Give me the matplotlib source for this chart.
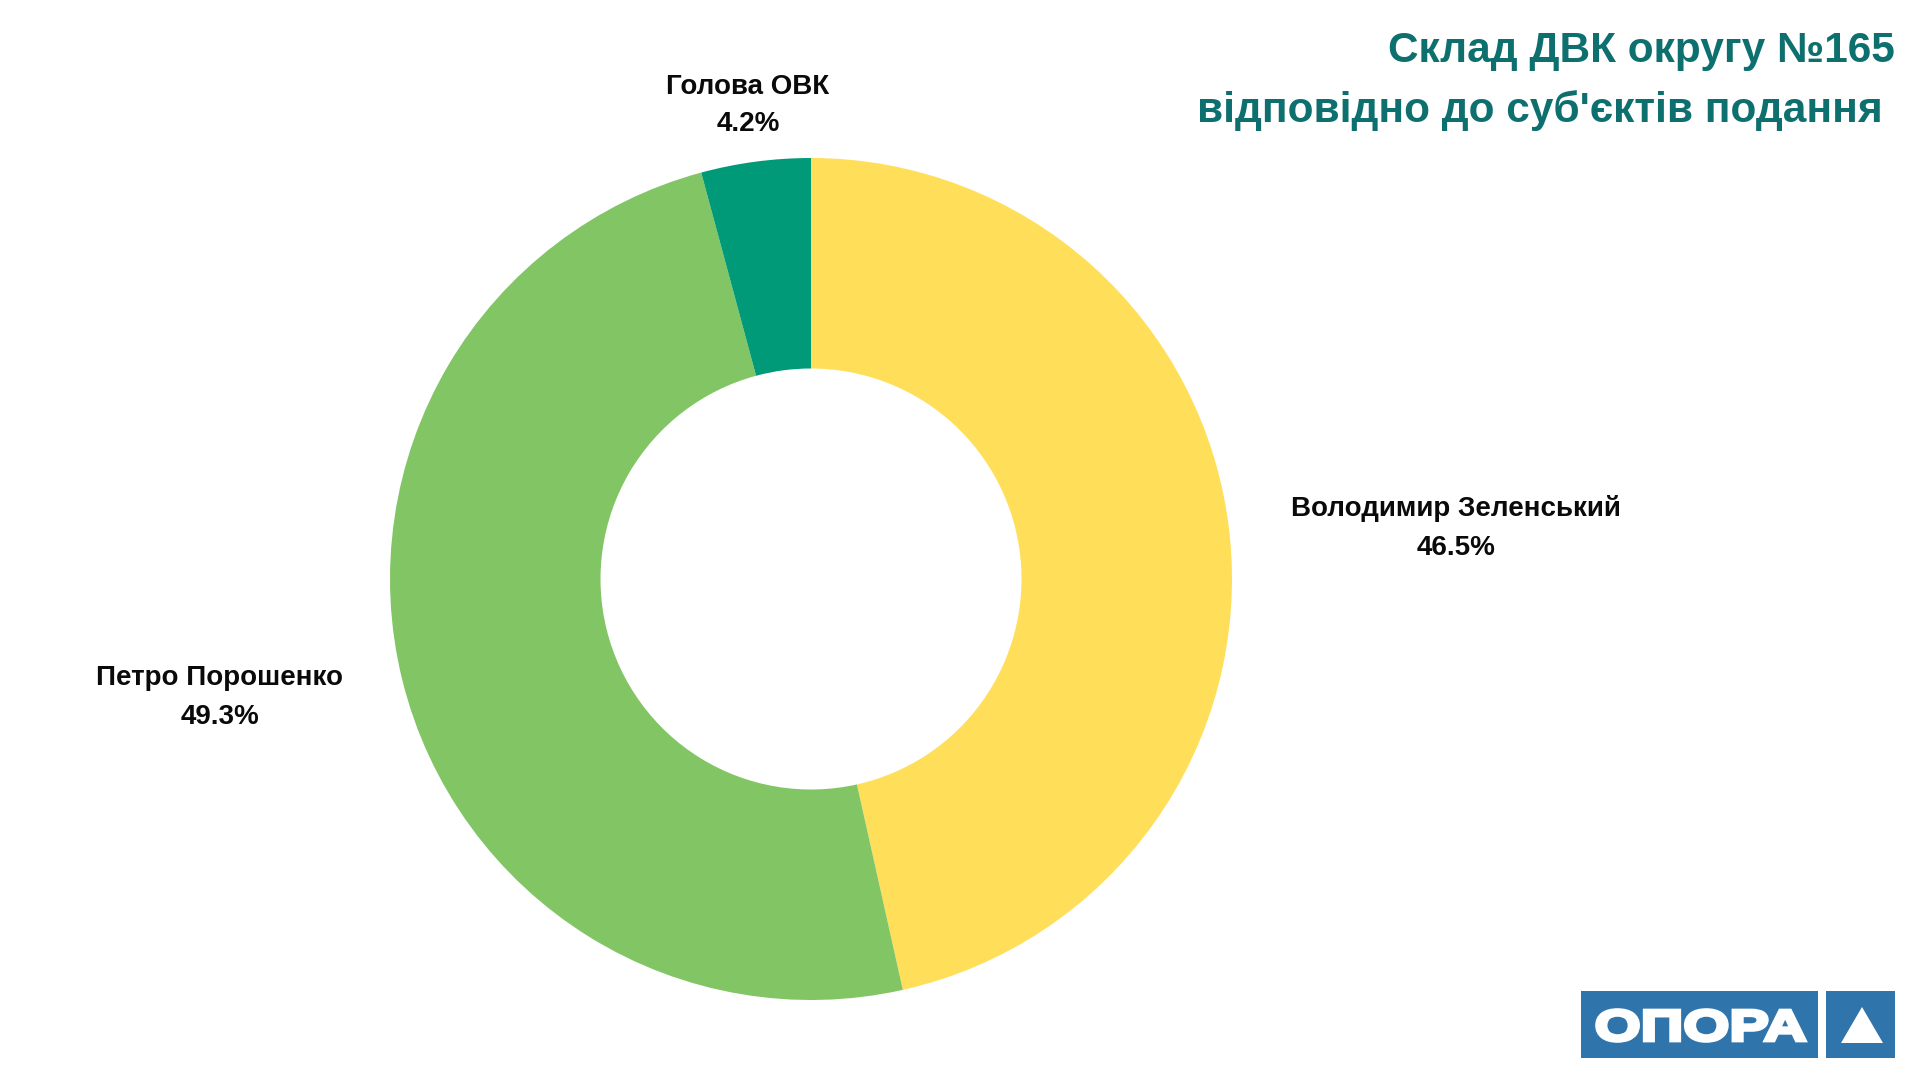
import matplotlib.pyplot as plt
from matplotlib.patches import Rectangle, Polygon, PathPatch
from matplotlib.textpath import TextPath
from matplotlib.font_manager import FontProperties
from matplotlib.transforms import Affine2D

plt.rcParams['font.family'] = ['Liberation Sans', 'DejaVu Sans']

# Дані
labels = ['Володимир Зеленський', 'Петро Порошенко', 'Голова ОВК']
values = [46.5, 49.3, 4.2]
colors = ['#FFDE59', '#82C564', '#019A78']
title_lines = ['Склад ДВК округу №165', "відповідно до суб'єктів подання"]

W, H = 1920, 1080
fig = plt.figure(figsize=(W / 100, H / 100), dpi=100)
fig.patch.set_facecolor('white')

# Кільцева діаграма (центр 811,579 px, радіус 421 px)
cx, cy, r = 811, 579, 421
ax = fig.add_axes([(cx - r) / W, (H - cy - r) / H, 2 * r / W, 2 * r / H])
ax.pie(values, colors=colors, startangle=90, counterclock=False, radius=1,
       wedgeprops=dict(width=0.5, edgecolor='none', linewidth=0))
ax.set_xlim(-1, 1)
ax.set_ylim(-1, 1)
ax.axis('off')

# Підписи (позиції в одиницях радіуса)
label_pos = [(1.532, 0.167, 0.074), (-1.404, -0.235, -0.328), (-0.150, 1.169, 1.080)]
for name, v, (x, y1, y2) in zip(labels, values, label_pos):
    ax.text(x, y1, name, ha='center', va='center', fontsize=20, fontweight='bold',
            color='#0A0A0A', clip_on=False)
    ax.text(x, y2, f'{v:.1f}%', ha='center', va='center', fontsize=20,
            fontweight='bold', color='#0A0A0A', clip_on=False)

# Заголовок
title_color = '#0E6F6F'
fig.text(1895 / W, 1 - 62 / H, title_lines[0], ha='right', va='baseline',
         fontsize=30.5, fontweight='bold', color=title_color)
fig.text(1883 / W, 1 - 122 / H, title_lines[1], ha='right', va='baseline',
         fontsize=30.5, fontweight='bold', color=title_color)

# Логотип ОПОРА
logo_blue = '#2F74AB'
fig.patches.append(Rectangle((1581 / W, (H - 1058) / H), (1818 - 1581) / W, (1058 - 991) / H,
                             transform=fig.transFigure, facecolor=logo_blue, edgecolor='none'))
fig.patches.append(Rectangle((1826 / W, (H - 1058) / H), (1895 - 1826) / W, (1058 - 991) / H,
                             transform=fig.transFigure, facecolor=logo_blue, edgecolor='none'))
tp = TextPath((0, 0), 'ОПОРА', size=1,
              prop=FontProperties(family='Liberation Sans', weight='bold'))
bb = tp.get_extents()
x0, x1, y0, y1 = 1597, 1805, H - 1041, H - 1010
tr = (Affine2D().translate(-bb.x0, -bb.y0)
      .scale((x1 - x0) / bb.width, (y1 - y0) / bb.height)
      .translate(x0, y0).scale(1 / W, 1 / H) + fig.transFigure)
fig.patches.append(PathPatch(tp, transform=tr, facecolor='white', edgecolor='white',
                             linewidth=2.6, joinstyle='miter'))
fig.patches.append(Polygon([(1841 / W, (H - 1043) / H), (1883 / W, (H - 1043) / H),
                            (1862 / W, (H - 1007) / H)], closed=True,
                           transform=fig.transFigure, facecolor='white', edgecolor='none'))

fig.savefig('out.png', dpi=100, facecolor='white')
